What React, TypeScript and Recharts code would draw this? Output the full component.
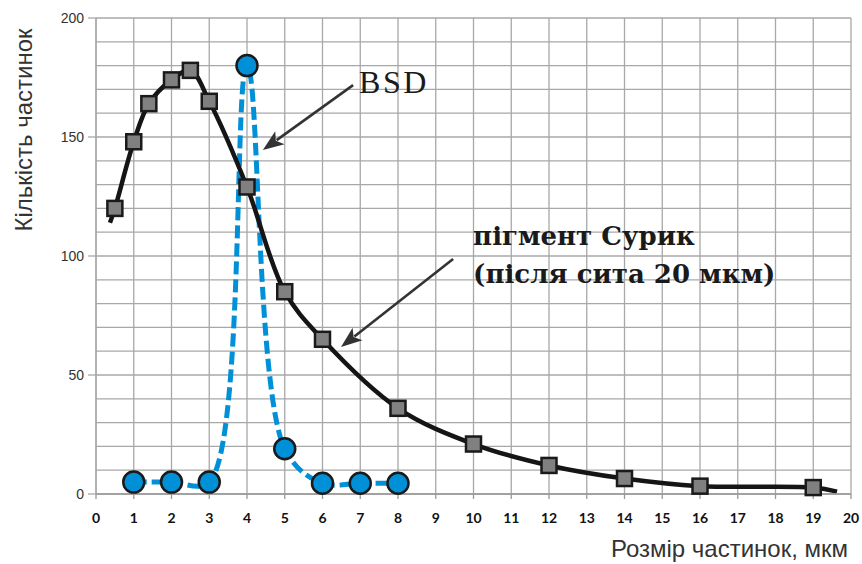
import React from 'react';
import { LineChart, Line, XAxis, YAxis, CartesianGrid, ReferenceLine } from 'recharts';

// ---- data ----
const pigmentX = [0.5, 1, 1.4, 2, 2.5, 3, 4, 5, 6, 8, 10, 12, 14, 16, 19];
const pigmentY = [120, 148, 164, 174, 178, 165, 129, 85, 65, 36, 21, 12, 6.5, 3.3, 2.7];
const pigmentCurveStart = { x: 0.37, y: 114 };
const pigmentCurveEnd = { x: 19.63, y: 1 };

const bsdX = [1, 2, 3, 4, 5, 6, 7, 8];
const bsdY = [5, 5, 5, 180, 19, 4.5, 4.5, 4.5];

const xTicks = [0, 1, 2, 3, 4, 5, 6, 7, 8, 9, 10, 11, 12, 13, 14, 15, 16, 17, 18, 19, 20];
const yTicks = [0, 10, 20, 30, 40, 50, 60, 70, 80, 90, 100, 110, 120, 130, 140, 150, 160, 170, 180, 190, 200];
const yLabelTicks = [0, 50, 100, 150, 200];

const bsdArrow = [{ x: 6.81, y: 171.8 }, { x: 4.42, y: 144.5 }];
const pigmentArrow = [{ x: 9.46, y: 98.7 }, { x: 6.49, y: 61.8 }];

const yTitle = 'Кількість частинок';
const xTitle = 'Розмір частинок, мкм';
const bsdText = 'BSD';
const pigmentText1 = 'пігмент Сурик';
const pigmentText2 = '(після сита 20 мкм)';

const markerData = pigmentX.map((x, i) => ({ x, y: pigmentY[i] }));
const curveData = [pigmentCurveStart, ...markerData, pigmentCurveEnd];
const bsdData = bsdX.map((x, i) => ({ x, y: bsdY[i] }));

const BLUE = '#0090d8';
const GRID = '#a8a8a8';

// ---- centripetal Catmull-Rom curve (pixel space) ----
class CatmullRom {
  _context: any; _alpha: number; _line: number = NaN;
  _x0 = NaN; _x1 = NaN; _x2 = NaN; _y0 = NaN; _y1 = NaN; _y2 = NaN;
  _l01_a = 0; _l12_a = 0; _l23_a = 0; _l01_2a = 0; _l12_2a = 0; _l23_2a = 0; _point = 0;
  constructor(context: any, alpha: number) { this._context = context; this._alpha = alpha; }
  areaStart() { this._line = 0; }
  areaEnd() { this._line = NaN; }
  lineStart() {
    this._x0 = this._x1 = this._x2 = this._y0 = this._y1 = this._y2 = NaN;
    this._l01_a = this._l12_a = this._l23_a = this._l01_2a = this._l12_2a = this._l23_2a = this._point = 0;
  }
  lineEnd() {
    switch (this._point) {
      case 2: this._context.lineTo(this._x2, this._y2); break;
      case 3: this.point(this._x2, this._y2); break;
    }
    if (this._line || (this._line !== 0 && this._point === 1)) this._context.closePath();
    this._line = 1 - this._line;
  }
  seg(x: number, y: number) {
    let x1 = this._x1, y1 = this._y1, x2 = this._x2, y2 = this._y2;
    const eps = 1e-12;
    if (this._l01_a > eps) {
      const a = 2 * this._l01_2a + 3 * this._l01_a * this._l12_a + this._l12_2a;
      const n = 3 * this._l01_a * (this._l01_a + this._l12_a);
      x1 = (x1 * a - this._x0 * this._l12_2a + this._x2 * this._l01_2a) / n;
      y1 = (y1 * a - this._y0 * this._l12_2a + this._y2 * this._l01_2a) / n;
    }
    if (this._l23_a > eps) {
      const b = 2 * this._l23_2a + 3 * this._l23_a * this._l12_a + this._l12_2a;
      const m = 3 * this._l23_a * (this._l23_a + this._l12_a);
      x2 = (x2 * b + this._x1 * this._l23_2a - x * this._l12_2a) / m;
      y2 = (y2 * b + this._y1 * this._l23_2a - y * this._l12_2a) / m;
    }
    this._context.bezierCurveTo(x1, y1, x2, y2, this._x2, this._y2);
  }
  point(x: number, y: number) {
    x = +x; y = +y;
    if (this._point) {
      const x23 = this._x2 - x, y23 = this._y2 - y;
      this._l23_2a = Math.pow(x23 * x23 + y23 * y23, this._alpha);
      this._l23_a = Math.sqrt(this._l23_2a);
    }
    switch (this._point) {
      case 0:
        this._point = 1;
        if (this._line) this._context.lineTo(x, y); else this._context.moveTo(x, y);
        break;
      case 1: this._point = 2; break;
      case 2: this._point = 3; this.seg(x, y); break;
      default: this.seg(x, y); break;
    }
    this._l01_a = this._l12_a; this._l12_a = this._l23_a;
    this._l01_2a = this._l12_2a; this._l12_2a = this._l23_2a;
    this._x0 = this._x1; this._x1 = this._x2; this._x2 = x;
    this._y0 = this._y1; this._y1 = this._y2; this._y2 = y;
  }
}
const smoothCurve: any = (context: any) => new CatmullRom(context, 0.5);

// ---- renderers ----
const SquareDot = (props: any) => {
  const { cx, cy, index } = props;
  if (cx == null || cy == null) return <g key={`s${index}`} />;
  return (
    <rect key={`s${index}`} x={cx - 7.5} y={cy - 7.5} width={15} height={15}
      fill="#808080" stroke="#1a1a1a" strokeWidth={2.5} />
  );
};

const CircleDot = (props: any) => {
  const { cx, cy, index } = props;
  if (cx == null || cy == null) return <g key={`c${index}`} />;
  return <circle key={`c${index}`} cx={cx} cy={cy} r={10.5} fill={BLUE} stroke="#1a1a1a" strokeWidth={2.5} />;
};

const YTick = (props: any) => {
  const { x, y, payload } = props;
  if (!yLabelTicks.includes(payload.value)) return <g />;
  return (
    <g>
      <line x1={x + 4} x2={x + 12} y1={y} y2={y} stroke={GRID} strokeWidth={1.3} />
      <text x={x} y={y} dy="0.36em" textAnchor="end" fontFamily="Liberation Sans, Arial, sans-serif"
        fontSize={14} fill="#333">{payload.value}</text>
    </g>
  );
};

const arrowPath = (x1: number, y1: number, x2: number, y2: number) => {
  const dx = x2 - x1, dy = y2 - y1;
  const len = Math.sqrt(dx * dx + dy * dy);
  const ux = dx / len, uy = dy / len;
  const headLen = 21, half = 8;
  const bx = x2 - ux * headLen, by = y2 - uy * headLen;
  const nx = -uy, ny = ux;
  return {
    line: { x1, y1, x2: bx + ux * 4, y2: by + uy * 4 },
    head: `${x2},${y2} ${bx + nx * half},${by + ny * half} ${bx + ux * 5},${by + uy * 5} ${bx - nx * half},${by - ny * half}`,
  };
};

const BsdArrowShape = (props: any) => {
  const { x1, y1, x2, y2 } = props;
  const a = arrowPath(x1, y1, x2, y2);
  return (
    <g>
      <line {...a.line} stroke="#333" strokeWidth={2.6} />
      <polygon points={a.head} fill="#333" />
      <text x={x1 + 6} y={y1 + 8} fontFamily="Liberation Serif, Times New Roman, serif" fontSize={32}
        letterSpacing={2.5} fill="#1a1a1a">{bsdText}</text>
    </g>
  );
};

const PigmentArrowShape = (props: any) => {
  const { x1, y1, x2, y2 } = props;
  const a = arrowPath(x1, y1, x2, y2);
  return (
    <g>
      <line {...a.line} stroke="#333" strokeWidth={2.6} />
      <polygon points={a.head} fill="#333" />
      <text x={x1 + 20} y={y1 - 14} fontFamily="DejaVu Serif, serif" fontWeight={700} fontSize={26}
        fill="#1a1a1a">{pigmentText1}</text>
      <text x={x1 + 20} y={y1 + 24} fontFamily="DejaVu Serif, serif" fontWeight={700} fontSize={26}
        fill="#1a1a1a">{pigmentText2}</text>
    </g>
  );
};

export default function App() {
  return (
    <div style={{ position: 'absolute', left: 0, top: 0, width: 862, height: 564, background: '#fff' }}>
      <LineChart width={862} height={564} margin={{ top: 18, right: 11, bottom: 0, left: 0 }}>
        <CartesianGrid stroke={GRID} strokeWidth={1.3} />
        <XAxis type="number" dataKey="x" domain={[0, 20]} ticks={xTicks} interval={0} height={70}
          tickSize={5} tickMargin={14} axisLine={{ stroke: '#999', strokeWidth: 1.3 }}
          tickLine={{ stroke: '#999', strokeWidth: 1.3 }}
          tick={{ fontFamily: 'Lato, sans-serif', fontWeight: 700, fontSize: 14, fill: '#111' }}
          label={{
            content: () => (
              <text x={848} y={557} textAnchor="end" fontFamily="Liberation Sans, Arial, sans-serif"
                fontSize={24} fill="#333">{xTitle}</text>
            ),
          }}
        />
        <YAxis type="number" domain={[0, 200]} ticks={yTicks} interval={0} width={96}
          tickSize={8} tickMargin={4} tickLine={false} axisLine={{ stroke: GRID, strokeWidth: 1.3 }}
          tick={<YTick />}
          label={{
            content: () => (
              <text x={32} y={130} transform="rotate(-90 32 130)" textAnchor="middle"
                fontFamily="Liberation Sans, Arial, sans-serif" fontSize={24} fill="#333">{yTitle}</text>
            ),
          }}
        />
        <Line data={bsdData} dataKey="y" type={smoothCurve} stroke={BLUE} strokeWidth={5}
          strokeDasharray="13 5" dot={CircleDot} activeDot={false} isAnimationActive={false} />
        <Line data={curveData} dataKey="y" type={smoothCurve} stroke="#151515" strokeWidth={4.5}
          dot={false} activeDot={false} isAnimationActive={false} />
        <Line data={markerData} dataKey="y" stroke="none" dot={SquareDot} activeDot={false}
          isAnimationActive={false} />
        <ReferenceLine segment={bsdArrow} shape={BsdArrowShape} ifOverflow="visible" />
        <ReferenceLine segment={pigmentArrow} shape={PigmentArrowShape} ifOverflow="visible" />
      </LineChart>
    </div>
  );
}
